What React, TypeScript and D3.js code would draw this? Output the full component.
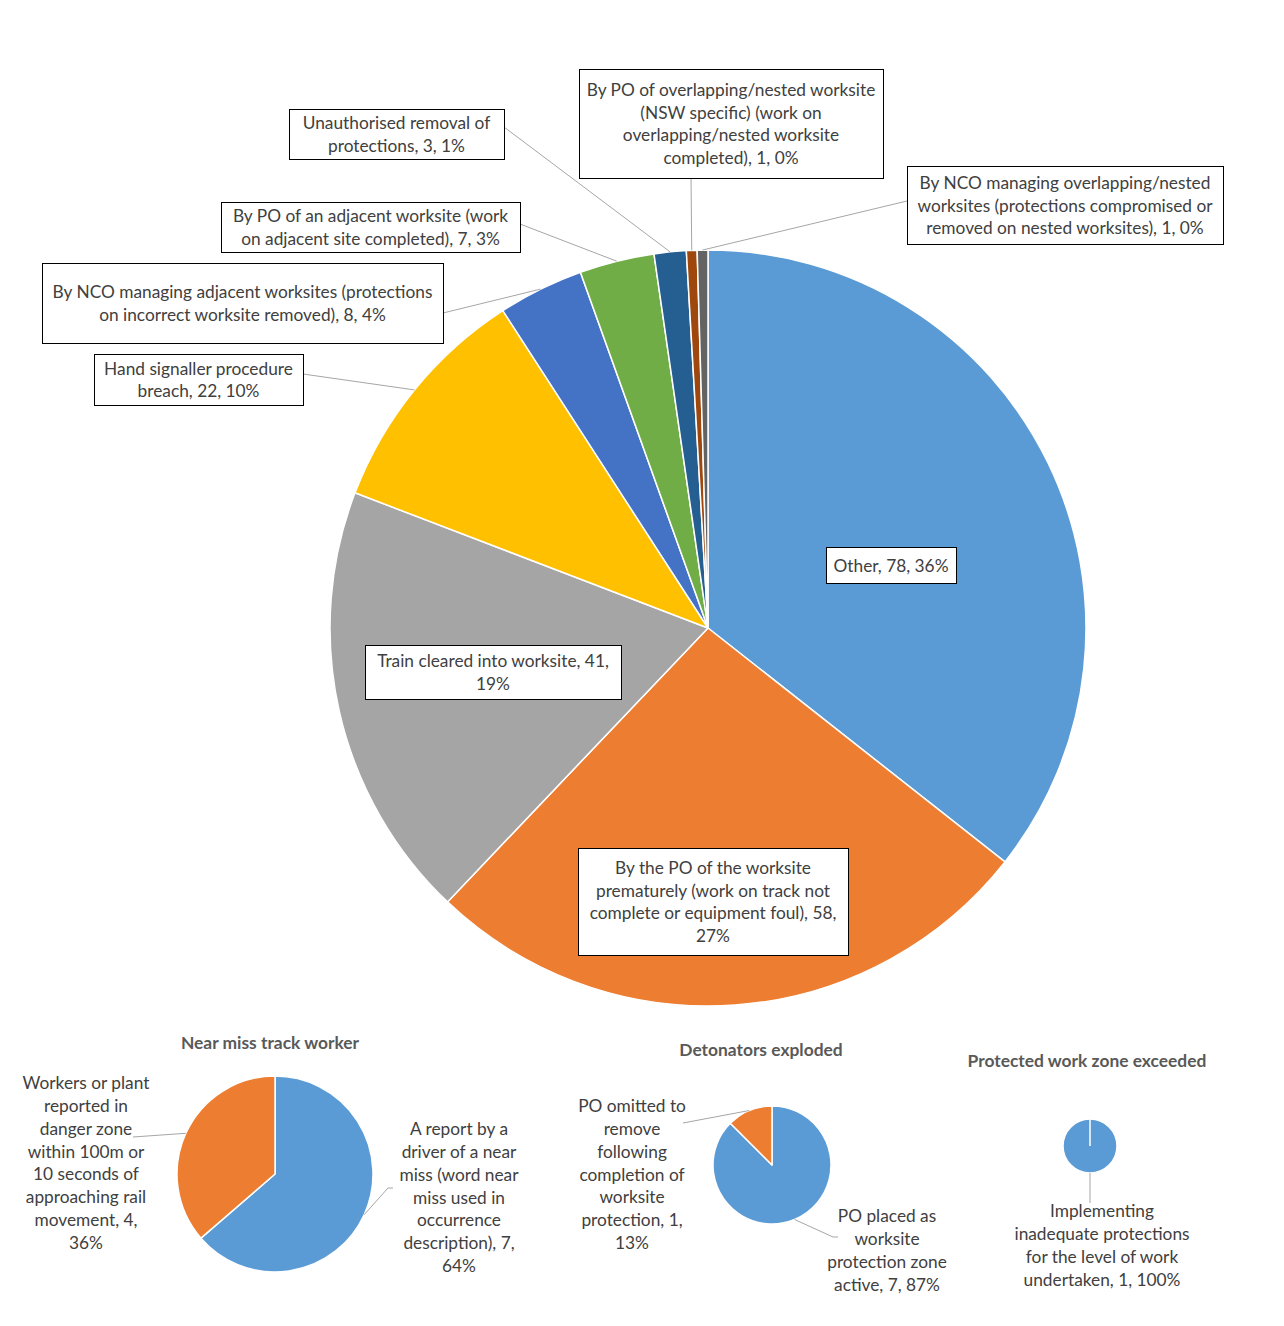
import React from "react";
import * as d3 from "d3";

// ---------- DATA ----------
const mainCategories = [
  "Other",
  "By the PO of the worksite prematurely (work on track not complete or equipment foul)",
  "Train cleared into worksite",
  "Hand signaller procedure breach",
  "By NCO managing adjacent worksites (protections on incorrect worksite removed)",
  "By PO of an adjacent worksite (work on adjacent site completed)",
  "Unauthorised removal of protections",
  "By PO of overlapping/nested worksite (NSW specific) (work on overlapping/nested worksite completed)",
  "By NCO managing overlapping/nested worksites (protections compromised or removed on nested worksites)",
];
const mainValues = [78, 58, 41, 22, 8, 7, 3, 1, 1];
const mainPercents = ["36%", "27%", "19%", "10%", "4%", "3%", "1%", "0%", "0%"];
const mainColors = ["#5B9BD5", "#ED7D31", "#A5A5A5", "#FFC000", "#4472C4", "#70AD47", "#255E91", "#9E480E", "#636363"];

const nearMissTitle = "Near miss track worker";
const nearMissCategories = [
  "A report by a driver of a near miss (word near miss used in occurrence description)",
  "Workers or plant reported in danger zone within 100m or 10 seconds of approaching rail movement",
];
const nearMissValues = [7, 4];
const nearMissPercents = ["64%", "36%"];

const detonatorTitle = "Detonators exploded";
const detonatorCategories = [
  "PO placed as worksite protection zone active",
  "PO omitted to remove following completion of worksite protection",
];
const detonatorValues = [7, 1];
const detonatorPercents = ["87%", "13%"];

const protectedTitle = "Protected work zone exceeded";
const protectedCategories = ["Implementing inadequate protections for the level of work undertaken"];
const protectedValues = [1];
const protectedPercents = ["100%"];

const smallColors = ["#5B9BD5", "#ED7D31"];

// ---------- LAYOUT ----------
const FONT = "Lato, 'Noto Sans', sans-serif";
const TEXT = "#404040";
const LEADER = "#A6A6A6";
const FS = 17.3;
const TITLE_FS = 17.4;

// wrapped label lines (text per slice, in data order)
const mainLabelLines = [
  ["Other, 78, 36%"],
  ["By the PO of the worksite", "prematurely (work on track not", "complete or equipment foul), 58,", "27%"],
  ["Train cleared into worksite, 41,", "19%"],
  ["Hand signaller procedure", "breach, 22, 10%"],
  ["By NCO managing adjacent worksites (protections", "on incorrect worksite removed), 8, 4%"],
  ["By PO of an adjacent worksite (work", "on adjacent site completed), 7, 3%"],
  ["Unauthorised removal of", "protections, 3, 1%"],
  ["By PO of overlapping/nested worksite", "(NSW specific) (work on", "overlapping/nested worksite", "completed), 1, 0%"],
  ["By NCO managing overlapping/nested", "worksites (protections compromised or", "removed on nested worksites), 1, 0%"],
];
// boxes [x, y, w, h] and leader start points (null = none)
const mainBoxes: [number, number, number, number][] = [
  [826, 547, 130, 36],
  [578, 848, 270, 107],
  [365, 645, 256, 54],
  [94, 354, 209, 51],
  [42, 263, 401, 80],
  [221, 202, 299, 50],
  [289, 109, 215, 50],
  [579, 69, 304, 109],
  [907, 166, 316, 78],
];
const mainLeaderStart: ([number, number] | null)[] = [
  null, null, null,
  [303, 374],
  [443, 313],
  [520, 224],
  [504, 127],
  [691, 178],
  [907, 201],
];

const LH = 22.8;

function valueLabel(cat: string, v: number, p: string) {
  return `${cat}, ${v}, ${p}`;
}

function Lines({ lines, cx, cy, size = FS }: { lines: string[]; cx: number; cy: number; size?: number }) {
  const first = cy - ((lines.length - 1) * LH) / 2 + 6.5;
  return (
    <g>
      {lines.map((l, i) => (
        <text key={i} x={cx} y={first + i * LH} textAnchor="middle" fontFamily={FONT} fontSize={size} fill={TEXT}>
          {l}
        </text>
      ))}
    </g>
  );
}

function edgePoint(a: d3.PieArcDatum<number>, cx: number, cy: number, r: number): [number, number] {
  const m = (a.startAngle + a.endAngle) / 2;
  return [cx + r * Math.sin(m), cy - r * Math.cos(m)];
}

function Pie({ values, colors, cx, cy, r }: { values: number[]; colors: string[]; cx: number; cy: number; r: number }) {
  const arcs = d3.pie<number>().sort(null).value((d) => d)(values);
  const arc = d3.arc<d3.PieArcDatum<number>>().innerRadius(0).outerRadius(r);
  return (
    <g transform={`translate(${cx},${cy})`}>
      {arcs.map((a, i) => (
        <path key={i} d={arc(a) || ""} fill={colors[i]} stroke="#fff" strokeWidth={1.5} strokeLinejoin="round" />
      ))}
      {arcs.length === 1 && (
        <line x1={0} y1={0} x2={r * Math.sin(arcs[0].startAngle)} y2={-r * Math.cos(arcs[0].startAngle)} stroke="#fff" strokeWidth={1.5} />
      )}
    </g>
  );
}

export default function App() {
  const W = 1284, H = 1326;
  // main pie
  const MCX = 708, MCY = 628, MR = 378;
  const mainArcs = d3.pie<number>().sort(null).value((d) => d)(mainValues);

  // near miss
  const NCX = 275, NCY = 1174, NR = 98;
  const nArcs = d3.pie<number>().sort(null).value((d) => d)(nearMissValues);
  // detonators
  const DCX = 772, DCY = 1165, DR = 59;
  const dArcs = d3.pie<number>().sort(null).value((d) => d)(detonatorValues);
  // protected
  const PCX = 1090, PCY = 1146, PR = 27;
  const pArcs = d3.pie<number>().sort(null).value((d) => d)(protectedValues);

  const nEdge0 = edgePoint(nArcs[0], NCX, NCY, NR);
  const nEdge1 = edgePoint(nArcs[1], NCX, NCY, NR);
  const dEdge0 = edgePoint(dArcs[0], DCX, DCY, DR);
  const dEdge1 = edgePoint(dArcs[1], DCX, DCY, DR);
  const pEdge0 = edgePoint(pArcs[0], PCX, PCY, PR);

  const _labels = mainCategories.map((c, i) => valueLabel(c, mainValues[i], mainPercents[i]));
  void _labels;
  void nearMissCategories; void nearMissPercents; void detonatorCategories; void detonatorPercents; void protectedCategories; void protectedPercents;

  return (
    <svg width={W} height={H} style={{ position: "absolute", left: 0, top: 0, background: "#fff" }}>
      <rect x={0} y={0} width={W} height={H} fill="#fff" />
      {/* Main pie */}
      <Pie values={mainValues} colors={mainColors} cx={MCX} cy={MCY} r={MR} />
      {mainArcs.map((a, i) => {
        const s = mainLeaderStart[i];
        if (!s) return null;
        const e = edgePoint(a, MCX, MCY, MR);
        return <line key={i} x1={s[0]} y1={s[1]} x2={e[0]} y2={e[1]} stroke={LEADER} strokeWidth={1} />;
      })}
      {mainBoxes.map((b, i) => (
        <g key={i}>
          <rect x={b[0] + 0.5} y={b[1] + 0.5} width={b[2]} height={b[3]} fill="#fff" stroke="#000" strokeWidth={1} />
          <Lines lines={mainLabelLines[i]} cx={b[0] + b[2] / 2} cy={b[1] + b[3] / 2} />
        </g>
      ))}

      {/* Near miss */}
      <text x={270} y={1049} textAnchor="middle" fontFamily={FONT} fontSize={TITLE_FS} fontWeight="bold" fill="#595959">{nearMissTitle}</text>
      <Pie values={nearMissValues} colors={smallColors} cx={NCX} cy={NCY} r={NR} />
      <polyline points={`133,1137 ${nEdge1[0]},${nEdge1[1]}`} fill="none" stroke={LEADER} strokeWidth={1} />
      <polyline points={`393,1188 388,1188 ${nEdge0[0]},${nEdge0[1]}`} fill="none" stroke={LEADER} strokeWidth={1} />
      <Lines lines={["Workers or plant", "reported in", "danger zone", "within 100m or", "10 seconds of", "approaching rail", "movement, 4,", "36%"]} cx={86} cy={1162.5} />
      <Lines lines={["A report by a", "driver of a near", "miss (word near", "miss used in", "occurrence", "description), 7,", "64%"]} cx={459} cy={1197} />

      {/* Detonators */}
      <text x={761} y={1056} textAnchor="middle" fontFamily={FONT} fontSize={TITLE_FS} fontWeight="bold" fill="#595959">{detonatorTitle}</text>
      <Pie values={detonatorValues} colors={smallColors} cx={DCX} cy={DCY} r={DR} />
      <polyline points={`683,1123 ${dEdge1[0]},${dEdge1[1]}`} fill="none" stroke={LEADER} strokeWidth={1} />
      <polyline points={`838,1237 833,1237 ${dEdge0[0]},${dEdge0[1]}`} fill="none" stroke={LEADER} strokeWidth={1} />
      <Lines lines={["PO omitted to", "remove", "following", "completion of", "worksite", "protection, 1,", "13%"]} cx={632} cy={1174} />
      <Lines lines={["PO placed as", "worksite", "protection zone", "active, 7, 87%"]} cx={887} cy={1250} />

      {/* Protected */}
      <text x={1087} y={1067} textAnchor="middle" fontFamily={FONT} fontSize={TITLE_FS} fontWeight="bold" fill="#595959">{protectedTitle}</text>
      <Pie values={protectedValues} colors={smallColors} cx={PCX} cy={PCY} r={PR} />
      <line x1={pEdge0[0]} y1={pEdge0[1]} x2={pEdge0[0]} y2={1203} stroke={LEADER} strokeWidth={1} />
      <Lines lines={["Implementing", "inadequate protections", "for the level of work", "undertaken, 1, 100%"]} cx={1102} cy={1245} />
    </svg>
  );
}
